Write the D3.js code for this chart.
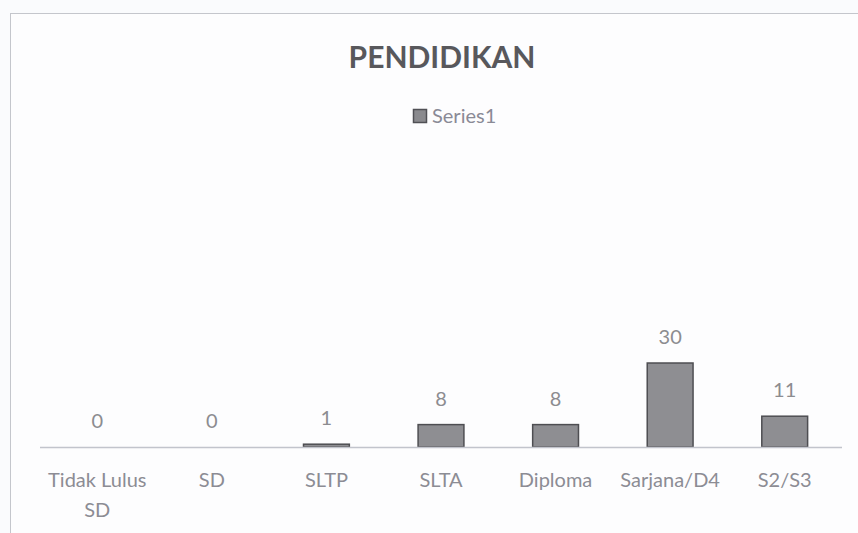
<!DOCTYPE html>
<html>
<head>
<meta charset="utf-8">
<script src="https://cdn.jsdelivr.net/npm/d3@7"></script>
<style>
  body { margin: 0; background: #fafbfd; }
  svg text { font-family: Lato, "Open Sans", sans-serif; }
</style>
</head>
<body>
<svg id="chart" width="858" height="533"></svg>
<script>
// data
var categories = ["Tidak Lulus SD", "SD", "SLTP", "SLTA", "Diploma", "Sarjana/D4", "S2/S3"];
var values = [0, 0, 1, 8, 8, 30, 11];
var seriesName = "Series1";
var chartTitle = "PENDIDIKAN";

var svg = d3.select("#chart");

// chart frame (only top and left edges show in the photo)
svg.append("rect")
    .attr("x", 10.5).attr("y", 13.5)
    .attr("width", 870).attr("height", 540)
    .attr("fill", "#fdfdfe")
    .attr("stroke", "#c4c6cc");

var plot = { left: 40, right: 842, base: 447 };

var x = d3.scaleBand()
    .domain(categories)
    .range([plot.left, plot.right])
    .paddingInner(0.6)
    .paddingOuter(0.3);

// 2.8 px per unit
var y = d3.scaleLinear()
    .domain([0, 30])
    .range([plot.base, plot.base - 84]);

// title
svg.append("text")
    .attr("x", 442).attr("y", 68)
    .attr("text-anchor", "middle")
    .attr("font-size", 30)
    .attr("font-weight", "bold")
    .attr("fill", "#58585c")
    .text(chartTitle);

// legend
svg.append("rect")
    .attr("x", 413.5).attr("y", 109.5)
    .attr("width", 13).attr("height", 13)
    .attr("fill", "#8a8a8e").attr("stroke", "#505055")
    .attr("stroke-width", 1.5);
svg.append("text")
    .attr("x", 432).attr("y", 123)
    .attr("font-size", 20)
    .attr("fill", "#8a8a96")
    .text(seriesName);

// bars
svg.selectAll(".bar")
    .data(values)
    .enter().append("rect")
    .attr("class", "bar")
    .attr("x", function(d, i) { return x(categories[i]); })
    .attr("y", function(d) { return y(d); })
    .attr("width", x.bandwidth())
    .attr("height", function(d) { return plot.base - y(d); })
    .attr("fill", "#8e8e92")
    .attr("stroke", "#4e4e52")
    .attr("stroke-width", 1.5);

// axis line
svg.append("line")
    .attr("x1", plot.left).attr("x2", plot.right)
    .attr("y1", plot.base + 0.5).attr("y2", plot.base + 0.5)
    .attr("stroke", "#c2c4cc").attr("stroke-width", 1.5);

// value labels
svg.selectAll(".val")
    .data(values)
    .enter().append("text")
    .attr("class", "val")
    .attr("x", function(d, i) { return x(categories[i]) + x.bandwidth() / 2; })
    .attr("y", function(d) { return y(d) - 19; })
    .attr("text-anchor", "middle")
    .attr("font-size", 20)
    .attr("fill", "#8c8c90")
    .text(function(d) { return d; });

// category labels, wrapped like excel does
var catLines = { "Tidak Lulus SD": ["Tidak Lulus", "SD"] };
categories.forEach(function(c) {
    var lines = catLines[c] || [c];
    var t = svg.append("text")
        .attr("x", x(c) + x.bandwidth() / 2)
        .attr("y", 487)
        .attr("text-anchor", "middle")
        .attr("font-size", 20)
        .attr("fill", "#8c8c94");
    lines.forEach(function(l, k) {
        t.append("tspan")
            .attr("x", x(c) + x.bandwidth() / 2)
            .attr("dy", k === 0 ? 0 : 30)
            .text(l);
    });
});
</script>
</body>
</html>
